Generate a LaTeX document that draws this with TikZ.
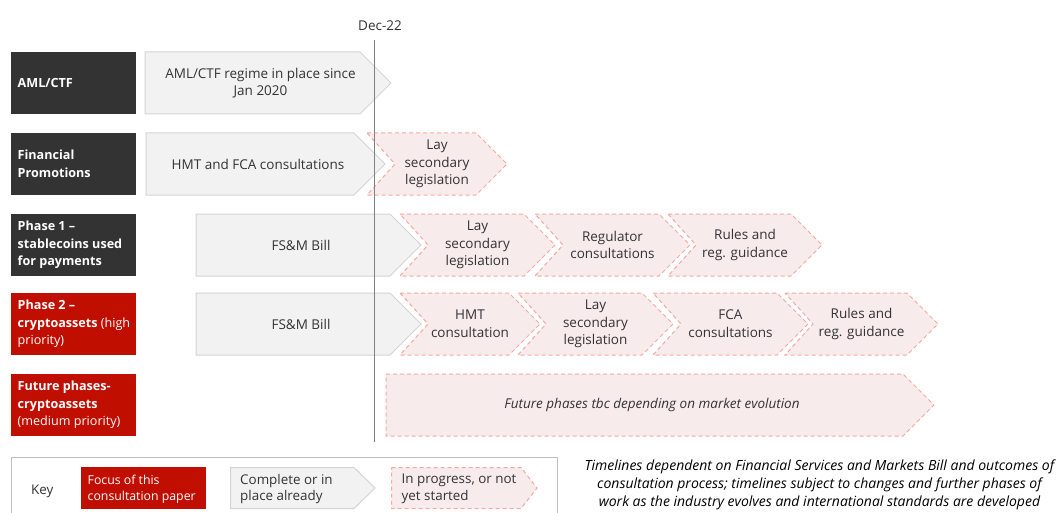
\documentclass[tikz,border=0pt]{standalone}
\usepackage{fontspec}
\setmainfont{Open Sans}
\definecolor{darkbox}{HTML}{333333}
\definecolor{redbox}{RGB}{192,14,0}
\definecolor{grayfill}{HTML}{F2F2F2}
\definecolor{grayline}{HTML}{D4D4D4}
\definecolor{pinkfill}{HTML}{F8EBEB}
\definecolor{pinkline}{HTML}{F5A9A0}
\definecolor{txtcol}{HTML}{333333}
\definecolor{linecol}{HTML}{808080}
\definecolor{keyline}{HTML}{BFBFBF}
\tikzset{
  graybox/.style={fill=grayfill, draw=grayline, line width=1pt, line join=miter},
  pinkbox/.style={fill=pinkfill, draw=pinkline, line width=1pt, dash pattern=on 4pt off 3pt},
  bodytxt/.style={text=txtcol, align=center, inner sep=0pt, font=\fontsize{13.5}{17.7}\selectfont},
  keytxt/.style={text=txtcol, align=left, anchor=west, inner sep=0pt, font=\fontsize{13.4}{16.5}\selectfont},
  lblbox/.style={rectangle, inner sep=0pt, minimum width=125pt, minimum height=62pt},
  lbltxt/.style={text=white, align=left, anchor=west, inner sep=0pt, font=\fontsize{12.6}{17.7}\selectfont},
}
\newcommand{\grayarrow}[6]{%
  \pgfmathsetmacro{\hhv}{(#5-#4)/2}%
  \path[graybox] (#2,#4) -- ({#3-\hhv},#4) -- (#3,{#4+\hhv}) -- ({#3-\hhv},#5) -- (#2,#5) -- cycle;
  \node[bodytxt] (#1) at ({(#2+#3-15)/2},{#4+\hhv}) {#6};
}
\newcommand{\pinkchev}[6]{%
  \pgfmathsetmacro{\hhv}{(#5-#4)/2}%
  \path[pinkbox] (#2,#4) -- ({#3-\hhv},#4) -- (#3,{#4+\hhv}) -- ({#3-\hhv},#5) -- (#2,#5) -- ({#2+28},{#4+\hhv}) -- cycle;
  \node[bodytxt] (#1) at ({(#2+#3)/2},{#4+\hhv}) {#6};
}
\begin{document}
\begin{tikzpicture}[x=1pt,y=-1pt]
\useasboundingbox (0,0) rectangle (1059,513);
\fill[white] (0,0) rectangle (1059,513);

% row labels
\node[lblbox, fill=darkbox] (l1) at (73.5,83) {};
\node[lbltxt] (t1) at (17.5,83) {\bfseries AML/CTF};
\node[lblbox, fill=darkbox] (l2) at (73.5,164) {};
\node[lbltxt] (t2) at (17.5,164) {\bfseries Financial\\\bfseries Promotions};
\node[lblbox, fill=darkbox] (l3) at (73.5,245) {};
\node[lbltxt] (t3) at (17.5,245) {\bfseries Phase 1 --\\\bfseries stablecoins used\\\bfseries for payments};
\node[lblbox, fill=redbox] (l4) at (73.5,324) {};
\node[lbltxt] (t4) at (17.5,324) {\bfseries Phase 2 --\\\textbf{cryptoassets} (high\\priority)};
\node[lblbox, fill=redbox] (l5) at (73.5,405) {};
\node[lbltxt] (t5) at (17.5,405) {\bfseries Future phases-\\\bfseries cryptoassets\\(medium priority)};

% row 1
\grayarrow{a1}{145}{391}{52}{114}{AML/CTF regime in place since\\Jan 2020}
% row 2
\grayarrow{a2}{146}{385}{133}{195}{HMT and FCA consultations}
\pinkchev{b2}{367}{507}{133}{195}{Lay\\secondary\\legislation}
% row 3
\grayarrow{a3}{196}{421}{214}{276}{FS\&M Bill}
\pinkchev{b3}{400}{555}{214}{276}{Lay\\secondary\\legislation}
\pinkchev{c3}{535}{690}{214}{276}{Regulator\\consultations}
\pinkchev{d3}{668}{822}{214}{276}{Rules and\\reg. guidance}
% row 4
\grayarrow{a4}{196}{421}{293}{355}{FS\&M Bill}
\pinkchev{b4}{400}{540}{293}{355}{HMT\\consultation}
\pinkchev{c4}{518}{673}{293}{355}{Lay\\secondary\\legislation}
\pinkchev{d4}{653}{808}{293}{355}{FCA\\consultations}
\pinkchev{e4}{785}{938}{293}{355}{Rules and\\reg. guidance}
% row 5
\path[pinkbox] (386,374) -- (903,374) -- (934,405) -- (903,436) -- (386,436) -- cycle;
\node[bodytxt, font=\fontsize{13.5}{17.7}\selectfont\itshape] (f5) at (652,405) {Future phases tbc depending on market evolution};

% Dec-22 line
\node[bodytxt] (dec) at (380,26) {Dec-22};
\coordinate (dtop) at (374,40);
\coordinate (dbot) at (374,442);
\draw[linecol, line width=1pt] (dtop) -- (dbot);

% key
\draw[keyline, line width=1pt] (11,457.5) rectangle (557,530);
\node[keytxt] (key) at (31,491) {Key};
\node[rectangle, inner sep=0pt, fill=redbox, minimum width=125pt, minimum height=41.5pt] (kred) at (143.5,487.75) {};
\node[keytxt, text=white, font=\fontsize{12.3}{16}\selectfont] (kredt) at (87.5,489) {Focus of this\\consultation paper};
\path[graybox] (230.5,467.5) -- (354,467.5) -- (375,488) -- (354,508.5) -- (230.5,508.5) -- cycle;
\node[keytxt] (kgray) at (240,489) {Complete or in\\place already};
\path[pinkbox] (391.5,467.5) -- (521,467.5) -- (537,488) -- (521,508.5) -- (391.5,508.5) -- cycle;
\node[keytxt] (kpink) at (401.5,489) {In progress, or not\\yet started};

% caption
\node[text=black, align=center, inner sep=0pt, font=\fontsize{14}{18}\selectfont\itshape] (cap) at (819.5,485) {Timelines dependent on Financial Services and Markets Bill and outcomes of\\consultation process; timelines subject to changes and further phases of\\work as the industry evolves and international standards are developed};
\end{tikzpicture}
\end{document}
